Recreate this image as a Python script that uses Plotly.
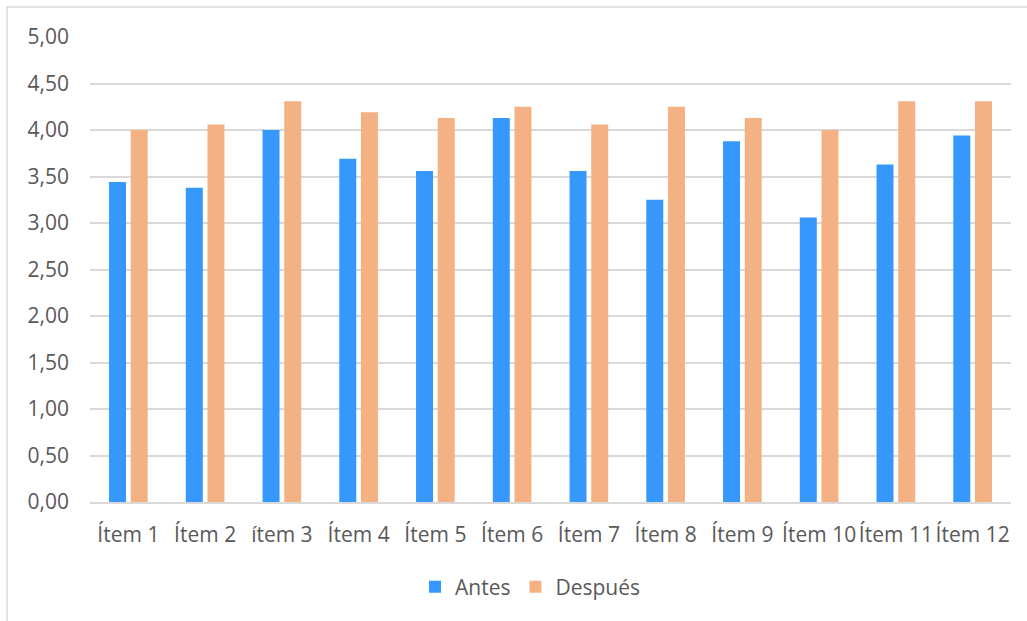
import plotly.graph_objects as go

categories = ["Ítem 1", "Ítem 2", "ítem 3", "Ítem 4", "Ítem 5", "Ítem 6",
              "Ítem 7", "Ítem 8", "Ítem 9", "Ítem 10", "Ítem 11", "Ítem 12"]
antes = [3.44, 3.38, 4.00, 3.69, 3.56, 4.13, 3.56, 3.25, 3.88, 3.06, 3.63, 3.94]
despues = [4.00, 4.06, 4.31, 4.19, 4.13, 4.25, 4.06, 4.25, 4.13, 4.00, 4.31, 4.31]
y_ticks = [0, 0.5, 1, 1.5, 2, 2.5, 3, 3.5, 4, 4.5, 5]

FONT = "Open Sans"
TXT = "#595959"
GRID = "#D9D9D9"

fig = go.Figure()
fig.add_trace(go.Bar(name="Antes", x=categories, y=antes,
                     marker=dict(color="#3698FD", line=dict(width=0))))
fig.add_trace(go.Bar(name="Después", x=categories, y=despues,
                     marker=dict(color="#F4B183", line=dict(width=0))))

W, H = 1027, 621
L, R, T, B = 90, 16, 37, 119
pw, ph = W - L - R, H - T - B

def px_x(p):
    return (p - L) / pw

def px_y(p):
    return (H - B - p) / ph

fig.update_layout(
    width=W, height=H,
    margin=dict(l=L, r=R, t=T, b=B, pad=0),
    paper_bgcolor="white", plot_bgcolor="white",
    separators=",.",
    barmode="group", bargap=0.435, bargroupgap=0.217,
    font=dict(family=FONT, size=21, color=TXT),
    showlegend=True,
    legend=dict(orientation="h", x=px_x(415), xanchor="left",
                y=px_y(587), yanchor="middle",
                font=dict(family=FONT, size=21, color=TXT),
                bgcolor="rgba(0,0,0,0)", itemclick=False),
    xaxis=dict(showgrid=False, showline=True, linecolor=GRID, linewidth=1.5,
               ticks="", tickangle=0, ticklabelstandoff=13,
               tickfont=dict(family=FONT, size=21, color=TXT)),
    yaxis=dict(range=[0, 5], tickvals=y_ticks, tickformat=".2f",
               showgrid=True, gridcolor=GRID, gridwidth=1.5,
               zeroline=False, showline=False, ticks="",
               ticklabelstandoff=20,
               tickfont=dict(family=FONT, size=21, color=TXT)),
    shapes=[dict(type="rect", xref="paper", yref="paper",
                 x0=px_x(7), x1=px_x(1060), y0=px_y(660), y1=px_y(7),
                 line=dict(color=GRID, width=1.5), fillcolor="rgba(0,0,0,0)",
                 layer="below")],
)

fig.write_html("out.html")
